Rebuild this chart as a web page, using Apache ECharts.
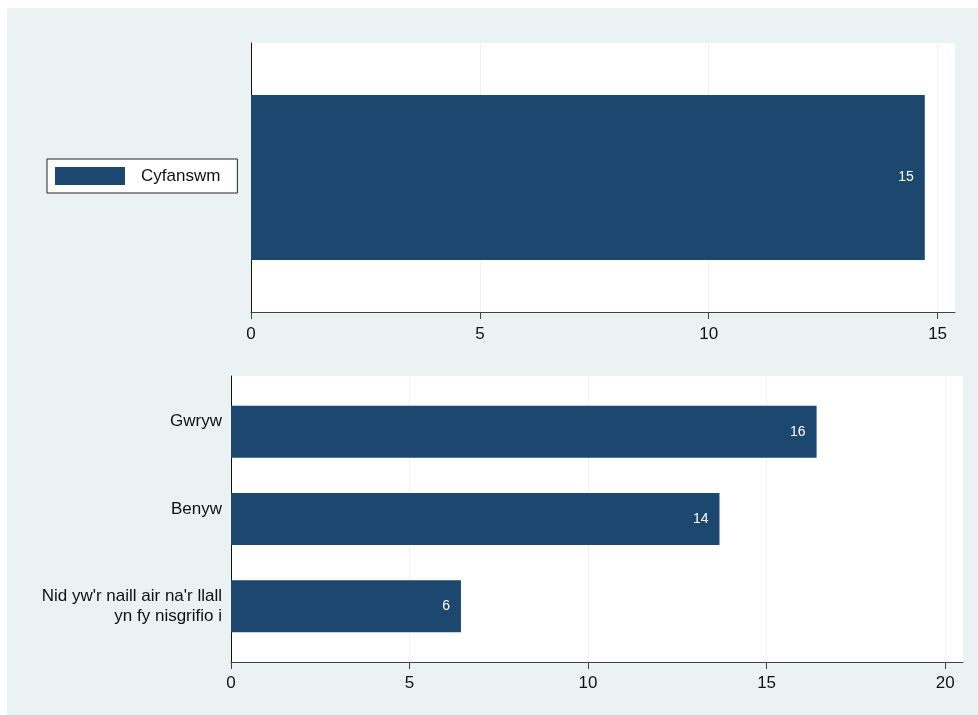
<!DOCTYPE html>
<html>
<head>
<meta charset="utf-8">
<script src="https://cdn.jsdelivr.net/npm/echarts@6/dist/echarts.min.js"></script>
<style>
html,body{margin:0;padding:0;background:#fff;}
#chart{width:978px;height:715px;}
</style>
</head>
<body>
<div id="chart"></div>
<script>
// ---- data ----
const topCategories = ['Cyfanswm'];
const topValues = [14.72];
const bottomCategories = ['Gwryw', 'Benyw', "Nid yw'r naill air na'r llall\nyn fy nisgrifio i"];
const bottomValues = [16.4, 13.68, 6.44];
const topTicks = [0, 5, 10, 15];
const bottomTicks = [0, 5, 10, 15, 20];

const FONT = "'Liberation Sans', Arial, sans-serif";
const BAR = '#1c476f';
const BG = '#eaf2f3';

const chart = echarts.init(document.getElementById('chart'), null, {renderer: 'canvas'});

const valueLabel = {
  show: true, position: 'insideRight', distance: 11,
  color: '#fff', fontSize: 14, fontFamily: FONT,
  formatter: p => String(Math.round(p.value))
};

const option = {
  backgroundColor: '#fff',
  animation: false,
  graphic: [{
    type: 'rect', z: -100, silent: true,
    shape: {x: 7, y: 8, width: 971, height: 707},
    style: {fill: BG}
  }],
  legend: {
    data: ['Cyfanswm'],
    left: 47, top: 159,
    orient: 'vertical',
    padding: [8, 17, 8, 8],
    itemWidth: 70, itemHeight: 18,
    icon: 'rect',
    backgroundColor: '#fff',
    borderColor: '#222', borderWidth: 1,
    textStyle: {fontSize: 17, fontFamily: FONT, color: '#111', padding: [0, 0, 0, 11], lineHeight: 18},
    selectedMode: false
  },
  grid: [
    {left: 251, top: 43, width: 704, height: 269, show: true, backgroundColor: '#fff', borderWidth: 0},
    {left: 231, top: 376, width: 732, height: 286, show: true, backgroundColor: '#fff', borderWidth: 0},
    {left: 231, top: 388, width: 732, height: 262, show: false}
  ],
  xAxis: [
    {
      gridIndex: 0, type: 'value', min: 0, max: 15.38, interval: 5,
      axisLine: {show: true, lineStyle: {color: '#444', width: 1}},
      axisTick: {show: true, length: 7, customValues: topTicks, lineStyle: {color: '#444'}},
      axisLabel: {customValues: topTicks, margin: 14, fontSize: 17, fontFamily: FONT, color: '#111'},
      splitLine: {show: true, lineStyle: {color: BG, width: 1}}
    },
    {
      gridIndex: 1, type: 'value', min: 0, max: 20.5, interval: 5,
      axisLine: {show: true, lineStyle: {color: '#444', width: 1}},
      axisTick: {show: true, length: 7, customValues: bottomTicks, lineStyle: {color: '#444'}},
      axisLabel: {customValues: bottomTicks, margin: 13, fontSize: 17, fontFamily: FONT, color: '#111'},
      splitLine: {show: true, lineStyle: {color: BG, width: 1}}
    },
    {
      gridIndex: 2, type: 'value', min: 0, max: 20.5, show: false
    }
  ],
  yAxis: [
    {
      gridIndex: 0, type: 'category', data: topCategories,
      axisLine: {show: true, lineStyle: {color: '#111', width: 1}},
      axisTick: {show: false}, axisLabel: {show: false}, splitLine: {show: false}
    },
    {
      gridIndex: 1, type: 'value', min: 0, max: 1,
      axisLine: {show: true, lineStyle: {color: '#111', width: 1}},
      axisTick: {show: false}, axisLabel: {show: false}, splitLine: {show: false}
    },
    {
      gridIndex: 2, type: 'category', data: bottomCategories, inverse: true,
      axisLine: {show: false}, axisTick: {show: false}, splitLine: {show: false},
      axisLabel: {
        margin: 9, fontSize: 17, fontFamily: FONT, color: '#111', lineHeight: 20, align: 'right',
        formatter: v => v.indexOf('\n') >= 0 ? v : '{p|' + v + '}',
        rich: {p: {fontSize: 17, fontFamily: FONT, color: '#111', lineHeight: 20, padding: [0, 0, 20, 0]}}
      }
    }
  ],
  series: [
    {
      type: 'bar', name: 'Cyfanswm', xAxisIndex: 0, yAxisIndex: 0,
      data: topValues, barWidth: 165,
      itemStyle: {color: BAR},
      label: valueLabel
    },
    {
      type: 'bar', name: 'Rhywedd', xAxisIndex: 2, yAxisIndex: 2,
      data: bottomValues, barWidth: 52,
      itemStyle: {color: BAR},
      label: valueLabel
    }
  ]
};
chart.setOption(option);
</script>
</body>
</html>
